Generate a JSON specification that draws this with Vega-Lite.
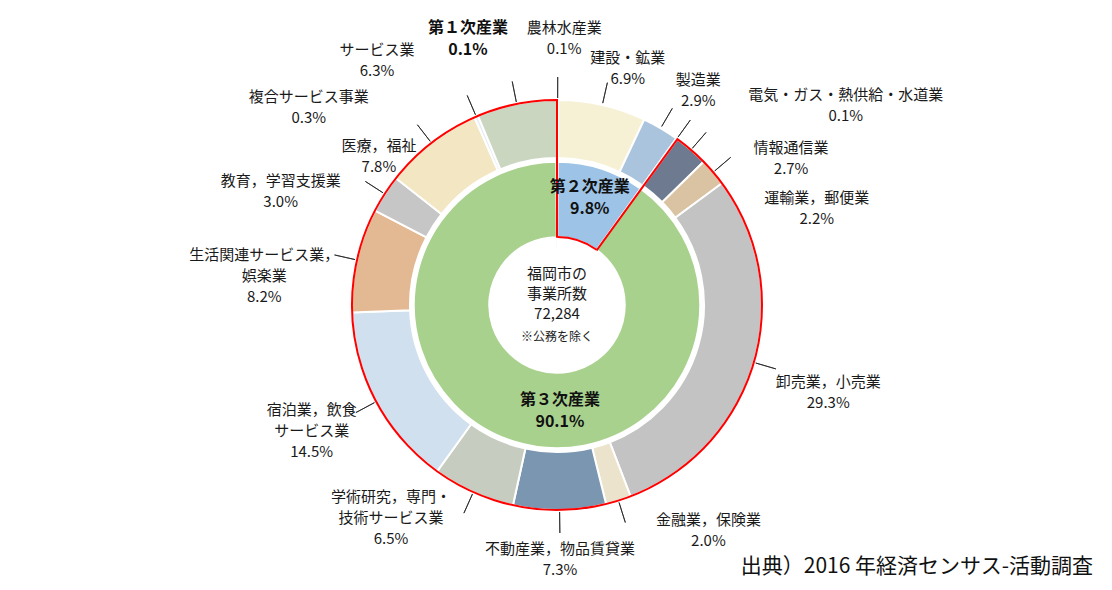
{
  "$schema": "https://vega.github.io/schema/vega-lite/v6.json",
  "width": 1112,
  "height": 590,
  "autosize": {"type": "fit", "contains": "padding"},
  "padding": {"left": 6, "top": 8, "right": 0, "bottom": 0},
  "background": "#ffffff",
  "config": {"view": {"fill": "#f0f0f0", "stroke": null}},
  "title": {
    "text": "出典）2016 年経済センサス-活動調査",
    "orient": "bottom",
    "anchor": "end",
    "offset": -34,
    "dx": -19,
    "font": "Noto Sans CJK JP",
    "fontSize": 21,
    "fontWeight": "normal",
    "color": "#111111"
  },
  "datasets": {
    "outer": [
      {"order": 0, "sector": "第１次産業", "industry": "農林水産業", "pct": 0.1},
      {"order": 1, "sector": "第２次産業", "industry": "建設・鉱業", "pct": 6.9},
      {"order": 2, "sector": "第２次産業", "industry": "製造業", "pct": 2.9},
      {"order": 3, "sector": "第２次産業", "industry": "電気・ガス・熱供給・水道業", "pct": 0.1},
      {"order": 4, "sector": "第３次産業", "industry": "情報通信業", "pct": 2.7},
      {"order": 5, "sector": "第３次産業", "industry": "運輸業，郵便業", "pct": 2.2},
      {"order": 6, "sector": "第３次産業", "industry": "卸売業，小売業", "pct": 29.3},
      {"order": 7, "sector": "第３次産業", "industry": "金融業，保険業", "pct": 2.0},
      {"order": 8, "sector": "第３次産業", "industry": "不動産業，物品賃貸業", "pct": 7.3},
      {"order": 9, "sector": "第３次産業", "industry": "学術研究，専門・\n技術サービス業", "pct": 6.5},
      {"order": 10, "sector": "第３次産業", "industry": "宿泊業，飲食\nサービス業", "pct": 14.5},
      {"order": 11, "sector": "第３次産業", "industry": "生活関連サービス業，\n娯楽業", "pct": 8.2},
      {"order": 12, "sector": "第３次産業", "industry": "教育，学習支援業", "pct": 3.0},
      {"order": 13, "sector": "第３次産業", "industry": "医療，福祉", "pct": 7.8},
      {"order": 14, "sector": "第３次産業", "industry": "複合サービス事業", "pct": 0.3},
      {"order": 15, "sector": "第３次産業", "industry": "サービス業", "pct": 6.3}
    ],
    "inner": [
      {"order": 0, "sector": "第１次産業", "pct": 0.1},
      {"order": 1, "sector": "第２次産業", "pct": 9.8},
      {"order": 2, "sector": "第３次産業", "pct": 90.1}
    ],
    "center": [
      {"title": "福岡市の\n事業所数", "total": 72284, "note": "※公務を除く"}
    ]
  },
  "layer": [
    {
      "data": {"name": "inner"},
      "transform": [{"aggregate": [{"op": "sum", "field": "pct", "as": "pct"}]}],
      "mark": {"type": "arc", "radius": 207, "fill": "#ffffff", "xOffset": -2, "yOffset": 6},
      "encoding": {"theta": {"field": "pct", "type": "quantitative", "stack": true}}
    },
    {
      "data": {"name": "outer"},
      "mark": {"type": "arc", "radius": 205, "radius2": 147, "stroke": "#ffffff", "strokeWidth": 2, "xOffset": -2, "yOffset": 6},
      "encoding": {
        "theta": {"field": "pct", "type": "quantitative", "stack": true},
        "order": {"field": "order", "type": "quantitative"},
        "color": {
          "field": "industry",
          "type": "nominal",
          "legend": null,
          "scale": {
            "domain": ["農林水産業", "建設・鉱業", "製造業", "電気・ガス・熱供給・水道業", "情報通信業", "運輸業，郵便業", "卸売業，小売業", "金融業，保険業", "不動産業，物品賃貸業", "学術研究，専門・\n技術サービス業", "宿泊業，飲食\nサービス業", "生活関連サービス業，\n娯楽業", "教育，学習支援業", "医療，福祉", "複合サービス事業", "サービス業"],
            "range": ["#c5e0b4", "#f6f1d4", "#a9c4dc", "#d9d9d9", "#6e7a8f", "#d9c3a3", "#c3c3c3", "#ebe3cb", "#7b96b0", "#c6ccbf", "#d1e0ee", "#e3b993", "#c6c6c6", "#f3e6c3", "#e8eef6", "#cbd6c1"]
          }
        }
      }
    },
    {
      "data": {"name": "inner"},
      "mark": {"type": "arc", "radius": 143, "radius2": 68, "stroke": "#ffffff", "strokeWidth": 1.5, "xOffset": -2, "yOffset": 6},
      "encoding": {
        "theta": {"field": "pct", "type": "quantitative", "stack": true},
        "order": {"field": "order", "type": "quantitative"},
        "fill": {
          "field": "sector",
          "type": "nominal",
          "legend": null,
          "scale": {"domain": ["第１次産業", "第２次産業", "第３次産業"], "range": ["#f4b183", "#9dc3e6", "#a9d18e"]}
        }
      }
    },
    {
      "data": {"name": "outer"},
      "transform": [
        {"aggregate": [{"op": "sum", "field": "pct", "as": "pct"}, {"op": "min", "field": "order", "as": "order"}], "groupby": ["sector"]}
      ],
      "mark": {"type": "arc", "radius": 205, "radius2": 58, "fillOpacity": 0, "strokeWidth": 2, "xOffset": -2, "yOffset": 6},
      "encoding": {
        "theta": {"field": "pct", "type": "quantitative", "stack": true},
        "order": {"field": "order", "type": "quantitative"},
        "stroke": {"condition": {"test": "datum.sector === '第３次産業'", "value": "#ff0000"}, "value": "transparent"}
      }
    },
    {
      "data": {"name": "inner"},
      "transform": [{"aggregate": [{"op": "sum", "field": "pct", "as": "pct"}]}],
      "mark": {"type": "arc", "radius": 67, "fill": "#ffffff", "stroke": "#ffffff", "strokeWidth": 1, "xOffset": -2, "yOffset": 6},
      "encoding": {"theta": {"field": "pct", "type": "quantitative", "stack": true}}
    },
    {
      "data": {"name": "inner"},
      "mark": {"type": "arc", "radius": 69, "radius2": 67, "strokeWidth": 0, "xOffset": -2, "yOffset": 6},
      "encoding": {
        "theta": {"field": "pct", "type": "quantitative", "stack": true},
        "order": {"field": "order", "type": "quantitative"},
        "fill": {"condition": {"test": "datum.sector !== '第３次産業'", "value": "#ff0000"}, "value": "transparent"}
      }
    },
    {
      "data": {"name": "outer"},
      "transform": [
        {"stack": "pct", "groupby": [], "sort": [{"field": "order"}], "as": ["s0", "s1"]},
        {"calculate": "(datum.s0 + datum.s1) / 2", "as": "mid"}
      ],
      "mark": {"type": "arc", "radius": 228, "radius2": 207, "stroke": "#222222", "strokeWidth": 0.8, "fillOpacity": 0, "xOffset": -2, "yOffset": 6},
      "encoding": {
        "theta": {"field": "mid", "type": "quantitative"},
        "theta2": {"field": "mid"}
      }
    },
    {
      "data": {"name": "outer"},
      "transform": [
        {"calculate": "datum.industry + '\\n' + format(datum.pct, '.1f') + '%'", "as": "txt"}
      ],
      "mark": {
        "type": "text",
        "font": "Noto Sans CJK JP",
        "fontSize": 15,
        "lineHeight": 21,
        "lineBreak": "\n",
        "align": "center",
        "baseline": "middle",
        "color": "#1a1a1a",
        "radius": {"expr": "[277,257,266,357,282,281,282,263,244,254,267,297,303,239,324,312][datum.order]"},
        "thetaOffset": {"expr": "[1.3,3.2,1.7,18.2,15.3,18.0,-0.4,-17.7,0,16.7,4.9,-3.0,-8.6,-10.4,-26.8,-23.9][datum.order] * PI / 180"},
        "xOffset": -2,
        "yOffset": 6
      },
      "encoding": {
        "theta": {"field": "pct", "type": "quantitative", "stack": true},
        "order": {"field": "order", "type": "quantitative"},
        "text": {"field": "txt"}
      }
    },
    {
      "data": {"name": "inner"},
      "transform": [
        {"calculate": "datum.sector + '\\n' + format(datum.pct, '.1f') + '%'", "as": "txt"}
      ],
      "mark": {
        "type": "text",
        "font": "Noto Sans CJK JP",
        "fontSize": 16,
        "fontWeight": "bold",
        "lineHeight": 22,
        "lineBreak": "\n",
        "align": "center",
        "baseline": "middle",
        "color": "#111111",
        "radius": {"expr": "[291,122,95][datum.order]"},
        "thetaOffset": {"expr": "[-18.0,-2.4,-19.4][datum.order] * PI / 180"},
        "xOffset": -2,
        "yOffset": 6
      },
      "encoding": {
        "theta": {"field": "pct", "type": "quantitative", "stack": true},
        "order": {"field": "order", "type": "quantitative"},
        "text": {"field": "txt"}
      }
    },
    {
      "data": {"name": "center"},
      "transform": [{"calculate": "datum.title + '\\n' + format(datum.total, ',')", "as": "txt"}],
      "mark": {"type": "text", "font": "Noto Sans CJK JP", "fontSize": 15, "lineHeight": 20, "lineBreak": "\n", "align": "center", "baseline": "middle", "color": "#1a1a1a", "xOffset": -2, "yOffset": -25},
      "encoding": {"text": {"field": "txt"}}
    },
    {
      "data": {"name": "center"},
      "mark": {"type": "text", "font": "Noto Sans CJK JP", "fontSize": 12, "align": "center", "baseline": "middle", "color": "#1a1a1a", "xOffset": -2, "yOffset": 38},
      "encoding": {"text": {"field": "note"}}
    }
  ]
}
